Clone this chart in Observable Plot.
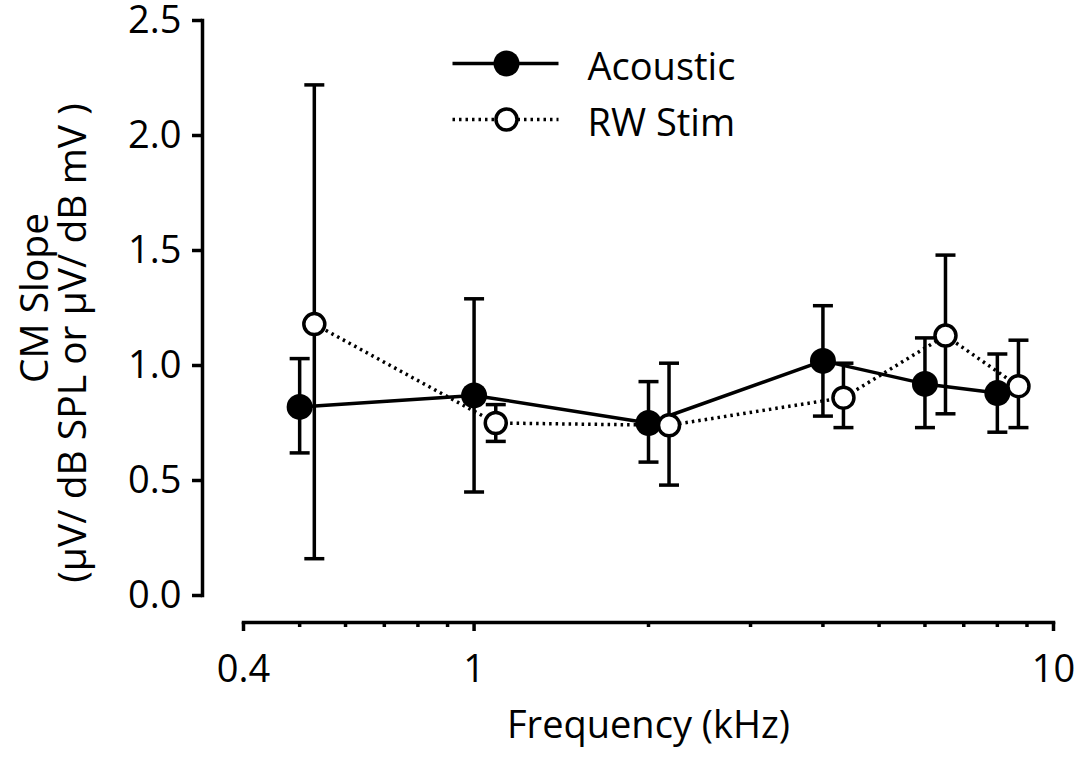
<!DOCTYPE html>
<html><head><meta charset="utf-8">
<script src="https://cdn.jsdelivr.net/npm/d3@7"></script>
<script src="https://cdn.jsdelivr.net/npm/@observablehq/plot@0.6"></script>
<style>
body{margin:0;background:#fff;}
#chart svg{display:block;}
</style></head><body><div id="chart"></div>
<script>
// ---- data ----
const freqAcoustic = [0.5, 1, 2, 4, 6, 8];
const meanAcoustic = [0.82, 0.87, 0.75, 1.02, 0.92, 0.88];
const lowAcoustic  = [0.62, 0.45, 0.58, 0.78, 0.73, 0.71];
const highAcoustic = [1.03, 1.29, 0.93, 1.26, 1.12, 1.05];

const freqRW = [0.53, 1.09, 2.17, 4.34, 6.51, 8.7];
const meanRW = [1.18, 0.75, 0.74, 0.86, 1.13, 0.91];
const lowRW  = [0.16, 0.67, 0.48, 0.73, 0.79, 0.73];
const highRW = [2.22, 0.83, 1.01, 1.01, 1.48, 1.11];

const yTicks = [0, 0.5, 1, 1.5, 2, 2.5];
const xLabelTicks = [0.4, 1, 10];
const xMinorTicks = [0.5, 0.6, 0.7, 0.8, 0.9, 2, 3, 4, 5, 6, 7, 8, 9];
const seriesNames = ["Acoustic", "RW Stim"];
const xTitle = "Frequency (kHz)";
const yTitle = ["CM Slope", "(μV/ dB SPL or μV/ dB mV )"];

// ---- tables ----
const acoustic = freqAcoustic.map((f, i) => ({f, m: meanAcoustic[i], lo: lowAcoustic[i], hi: highAcoustic[i]}));
const rw = freqRW.map((f, i) => ({f, m: meanRW[i], lo: lowRW[i], hi: highRW[i]}));

// horizontal line symbol (error-bar caps, legend lines)
const hline = {draw(ctx, size) { const r = Math.sqrt(size / Math.PI); ctx.moveTo(-r, 0); ctx.lineTo(r, 0); }};

const SW = 3.5;
const FS = 38;
const DASH = "2.5,4";

const chart = Plot.plot({
  width: 1084, height: 765,
  marginLeft: 243, marginRight: 31, marginTop: 20, marginBottom: 170,
  x: {type: "log", domain: [0.4, 10]},
  y: {domain: [0, 2.5]},
  style: {fontFamily: "'Open Sans', sans-serif", fontSize: FS + "px", color: "black", background: "white"},
  marks: [
    // axes
    Plot.frame({anchor: "left", dx: -41, strokeWidth: SW}),
    Plot.frame({anchor: "bottom", dy: 27, strokeWidth: SW}),
    Plot.axisY({ticks: yTicks, tickFormat: d3.format(".1f"), tickSize: 10, tickPadding: 11, dx: -41, strokeWidth: SW, fontSize: FS, label: null}),
    Plot.axisX({ticks: xMinorTicks, tickFormat: () => "", tickSize: 5, dy: 27, strokeWidth: SW, label: null}),
    Plot.axisX({ticks: xLabelTicks, tickFormat: d => String(d), tickSize: 9, tickPadding: 24, dy: 27, strokeWidth: SW, fontSize: FS, label: null}),

    // axis titles
    Plot.text([xTitle], {frameAnchor: "bottom", lineAnchor: "middle", textAnchor: "middle", dy: 130, fontSize: FS}),
    Plot.text([yTitle[0]], {frameAnchor: "left", rotate: -90, lineAnchor: "middle", textAnchor: "middle", dx: -208, dy: -10, fontSize: 39}),
    Plot.text([yTitle[1]], {frameAnchor: "left", rotate: -90, lineAnchor: "middle", textAnchor: "middle", dx: -170, dy: 35, fontSize: 39}),

    // Acoustic
    Plot.ruleX(acoustic, {x: "f", y1: "lo", y2: "hi", strokeWidth: SW}),
    Plot.dot(acoustic, {x: "f", y: "lo", symbol: hline, r: 10, stroke: "black", strokeWidth: SW}),
    Plot.dot(acoustic, {x: "f", y: "hi", symbol: hline, r: 10, stroke: "black", strokeWidth: SW}),
    Plot.line(acoustic, {x: "f", y: "m", strokeWidth: SW, stroke: "black"}),
    Plot.dot(acoustic, {x: "f", y: "m", r: 13, fill: "black", stroke: "none"}),

    // RW Stim
    Plot.ruleX(rw, {x: "f", y1: "lo", y2: "hi", strokeWidth: SW}),
    Plot.dot(rw, {x: "f", y: "lo", symbol: hline, r: 10, stroke: "black", strokeWidth: SW}),
    Plot.dot(rw, {x: "f", y: "hi", symbol: hline, r: 10, stroke: "black", strokeWidth: SW}),
    Plot.line(rw, {x: "f", y: "m", strokeWidth: SW, stroke: "black", strokeDasharray: DASH, strokeLinecap: "butt"}),
    Plot.dot(rw, {x: "f", y: "m", r: 10.5, fill: "white", stroke: "black", strokeWidth: SW}),

    // legend
    Plot.dot([seriesNames[0]], {frameAnchor: "top-left", dx: 262, dy: 43, symbol: hline, r: 53, stroke: "black", strokeWidth: SW}),
    Plot.dot([seriesNames[0]], {frameAnchor: "top-left", dx: 263, dy: 43, r: 13, fill: "black", stroke: "none"}),
    Plot.text([seriesNames[0]], {frameAnchor: "top-left", dx: 344, dy: 47, textAnchor: "start", lineAnchor: "middle", fontSize: FS}),
    Plot.dot([seriesNames[1]], {frameAnchor: "top-left", dx: 262, dy: 99, symbol: hline, r: 53, stroke: "black", strokeWidth: SW, strokeDasharray: DASH}),
    Plot.dot([seriesNames[1]], {frameAnchor: "top-left", dx: 263, dy: 99, r: 10.5, fill: "white", stroke: "black", strokeWidth: SW}),
    Plot.text([seriesNames[1]], {frameAnchor: "top-left", dx: 344, dy: 103, textAnchor: "start", lineAnchor: "middle", fontSize: FS})
  ]
});
document.getElementById("chart").appendChild(chart);
</script>
</body></html>
